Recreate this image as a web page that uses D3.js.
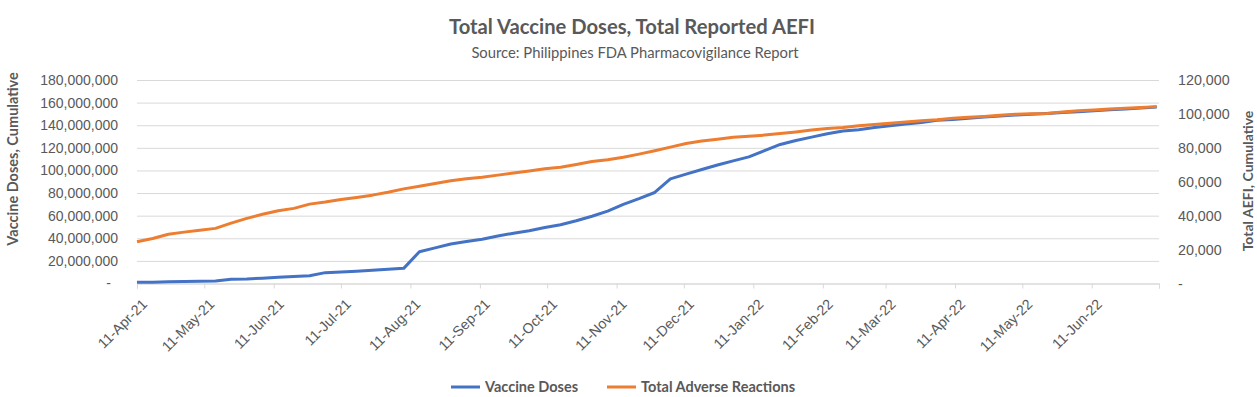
<!DOCTYPE html>
<html>
<head>
<meta charset="utf-8">
<script src="https://cdn.jsdelivr.net/npm/d3@7"></script>
<style>
  body { margin: 0; background: #fff; }
  svg { font-family: Lato, "Open Sans", sans-serif; }
</style>
</head>
<body>
<div id="chart-area"></div>
<script>
// weekly report dates
const weeks = [
  '2021-04-11','2021-04-18','2021-04-25','2021-05-02','2021-05-09','2021-05-16','2021-05-23','2021-05-30',
  '2021-06-06','2021-06-13','2021-06-20','2021-06-27','2021-07-04','2021-07-11','2021-07-18','2021-07-25',
  '2021-08-01','2021-08-08','2021-08-15','2021-08-22','2021-08-29','2021-09-05','2021-09-12','2021-09-19',
  '2021-09-26','2021-10-03','2021-10-10','2021-10-17','2021-10-24','2021-10-31','2021-11-07','2021-11-14',
  '2021-11-21','2021-11-28','2021-12-05','2021-12-12','2021-12-19','2021-12-26','2022-01-02','2022-01-09',
  '2022-01-16','2022-01-23','2022-01-30','2022-02-06','2022-02-13','2022-02-20','2022-02-27','2022-03-06',
  '2022-03-13','2022-03-20','2022-03-27','2022-04-03','2022-04-10','2022-04-17','2022-04-24','2022-05-01',
  '2022-05-08','2022-05-15','2022-05-22','2022-05-29','2022-06-05','2022-06-12','2022-06-19','2022-06-26',
  '2022-07-03','2022-07-10'
];

// cumulative vaccine doses, millions
const vaccineDoses = [
  1.0, 1.2, 1.5, 1.8, 2.0, 2.2, 3.7, 4.0, 4.7, 5.5, 6.2, 6.9, 9.6, 10.2, 10.8, 11.7,
  12.5, 13.4, 28.1, 31.5, 35.0, 37.2, 39.2, 42.0, 44.5, 46.7, 49.5, 52.0, 55.5, 59.5, 64.0, 70.0,
  75.0, 80.5, 92.5, 96.8, 100.8, 104.8, 108.5, 112.0, 117.5, 123.0, 126.5, 129.5, 132.5, 134.9, 136.0, 138.0,
  139.6, 141.0, 142.3, 144.3, 145.0, 146.2, 147.3, 148.2, 149.0, 149.8, 150.4, 151.2, 152.0, 152.8, 153.6, 154.4,
  155.3, 156.2
].map(v => v * 1e6);

// cumulative adverse reactions, thousands
const adverseReactions = [
  24.6, 26.5, 29.0, 30.3, 31.4, 32.5, 35.6, 38.4, 40.8, 42.9, 44.3, 46.8, 48.0, 49.5, 50.7, 52.1,
  53.8, 55.8, 57.4, 59.0, 60.6, 61.8, 62.7, 63.9, 65.1, 66.4, 67.7, 68.6, 70.2, 71.9, 73.0, 74.5,
  76.3, 78.3, 80.4, 82.6, 84.0, 85.0, 86.2, 86.8, 87.5, 88.4, 89.4, 90.5, 91.4, 92.0, 93.0, 93.8,
  94.5, 95.3, 96.0, 96.5, 97.4, 98.0, 98.5, 99.2, 99.8, 100.1, 100.3, 101.2, 101.8, 102.3, 102.9, 103.4,
  103.8, 104.3
].map(v => v * 1000);

const xTicks = [
  '2021-04-11','2021-05-11','2021-06-11','2021-07-11','2021-08-11','2021-09-11','2021-10-11','2021-11-11',
  '2021-12-11','2022-01-11','2022-02-11','2022-03-11','2022-04-11','2022-05-11','2022-06-11','2022-07-11'
];
const leftTicks = [0, 20e6, 40e6, 60e6, 80e6, 100e6, 120e6, 140e6, 160e6, 180e6];
const rightTicks = [0, 20000, 40000, 60000, 80000, 100000, 120000];

const W = 1257, H = 397;
const margin = { left: 137, right: 98, top: 80, bottom: 113.5 };
const width = W - margin.left - margin.right;
const height = H - margin.top - margin.bottom;

const parse = d3.timeParse('%Y-%m-%d');
const fmtTick = d3.timeFormat('%d-%b-%y');
const fmtNum = d3.format(',');
const textColor = '#595959';
const gridColor = '#d9d9d9';

const x = d3.scaleTime()
  .domain([parse(xTicks[0]), parse(xTicks[xTicks.length - 1])])
  .range([0, width]);

const yLeft = d3.scaleLinear().domain([0, 180e6]).range([height, 0]);
const yRight = d3.scaleLinear().domain([0, 120000]).range([height, 0]);

const svg = d3.select('#chart-area').append('svg')
  .attr('width', W)
  .attr('height', H);

const g = svg.append('g')
  .attr('transform', `translate(${margin.left}, ${margin.top})`);

// gridlines
g.append('g')
  .call(d3.axisLeft(yLeft).tickValues(leftTicks).tickSize(-width).tickFormat(''))
  .call(s => s.select('.domain').remove())
  .call(s => s.selectAll('line').attr('stroke', gridColor));

// left axis labels
g.append('g')
  .call(d3.axisLeft(yLeft).tickValues(leftTicks).tickSize(0).tickPadding(19)
    .tickFormat(d => d === 0 ? '-' : fmtNum(d)))
  .call(s => s.select('.domain').remove())
  .call(s => s.selectAll('text')
    .attr('fill', textColor).attr('font-size', 14)
    .attr('dx', d => d === 0 ? -7 : 0));

// right axis labels
g.append('g')
  .attr('transform', `translate(${width}, 0)`)
  .call(d3.axisRight(yRight).tickValues(rightTicks).tickSize(0).tickPadding(19)
    .tickFormat(d => d === 0 ? '-' : fmtNum(d)))
  .call(s => s.select('.domain').remove())
  .call(s => s.selectAll('text').attr('fill', textColor).attr('font-size', 14.3));

// x axis
const xAxis = g.append('g')
  .attr('transform', `translate(0, ${height})`)
  .call(d3.axisBottom(x).tickValues(xTicks.map(parse)).tickSize(5)
    .tickFormat((d, i) => i === xTicks.length - 1 ? '' : fmtTick(d)));
xAxis.select('.domain').attr('stroke', gridColor);
xAxis.selectAll('line').attr('stroke', gridColor);
xAxis.selectAll('text')
  .attr('fill', textColor)
  .attr('font-size', 14.3)
  .attr('text-anchor', 'end')
  .attr('y', 0).attr('dy', '0.35em')
  .attr('transform', 'translate(7, 18) rotate(-45)');

// lines
const lineDoses = d3.line()
  .x((d, i) => x(parse(weeks[i])))
  .y(d => yLeft(d));
const lineAefi = d3.line()
  .x((d, i) => x(parse(weeks[i])))
  .y(d => yRight(d));

g.append('path')
  .datum(vaccineDoses)
  .attr('fill', 'none')
  .attr('stroke', '#4472C4')
  .attr('stroke-width', 3)
  .attr('stroke-linejoin', 'round')
  .attr('d', lineDoses);

g.append('path')
  .datum(adverseReactions)
  .attr('fill', 'none')
  .attr('stroke', '#ED7D31')
  .attr('stroke-width', 3)
  .attr('stroke-linejoin', 'round')
  .attr('d', lineAefi);

// titles
svg.append('text')
  .attr('x', 632).attr('y', 34)
  .attr('text-anchor', 'middle')
  .attr('fill', textColor)
  .attr('font-size', 20.2).attr('font-weight', 'bold')
  .text('Total Vaccine Doses, Total Reported AEFI');

svg.append('text')
  .attr('x', 635).attr('y', 58)
  .attr('text-anchor', 'middle')
  .attr('fill', textColor)
  .attr('font-size', 14.8)
  .text('Source: Philippines FDA Pharmacovigilance Report');

svg.append('text')
  .attr('transform', 'translate(18, 159) rotate(-90)')
  .attr('text-anchor', 'middle')
  .attr('fill', textColor)
  .attr('font-size', 14.5).attr('font-weight', 'bold')
  .text('Vaccine Doses, Cumulative');

svg.append('text')
  .attr('transform', 'translate(1253, 181) rotate(-90)')
  .attr('text-anchor', 'middle')
  .attr('fill', textColor)
  .attr('font-size', 14).attr('font-weight', 'bold')
  .text('Total AEFI, Cumulative');

// legend
const legend = [
  { name: 'Vaccine Doses', color: '#4472C4', x: 451 },
  { name: 'Total Adverse Reactions', color: '#ED7D31', x: 607 }
];
const lg = svg.selectAll('.legend').data(legend).enter().append('g')
  .attr('class', 'legend')
  .attr('transform', d => `translate(${d.x}, 387)`);
lg.append('line')
  .attr('x1', 0).attr('x2', 29)
  .attr('stroke', d => d.color).attr('stroke-width', 3);
lg.append('text')
  .attr('x', 34).attr('dy', '0.35em')
  .attr('fill', textColor)
  .attr('font-size', 14.5).attr('font-weight', 'bold')
  .text(d => d.name);
</script>
</body>
</html>
